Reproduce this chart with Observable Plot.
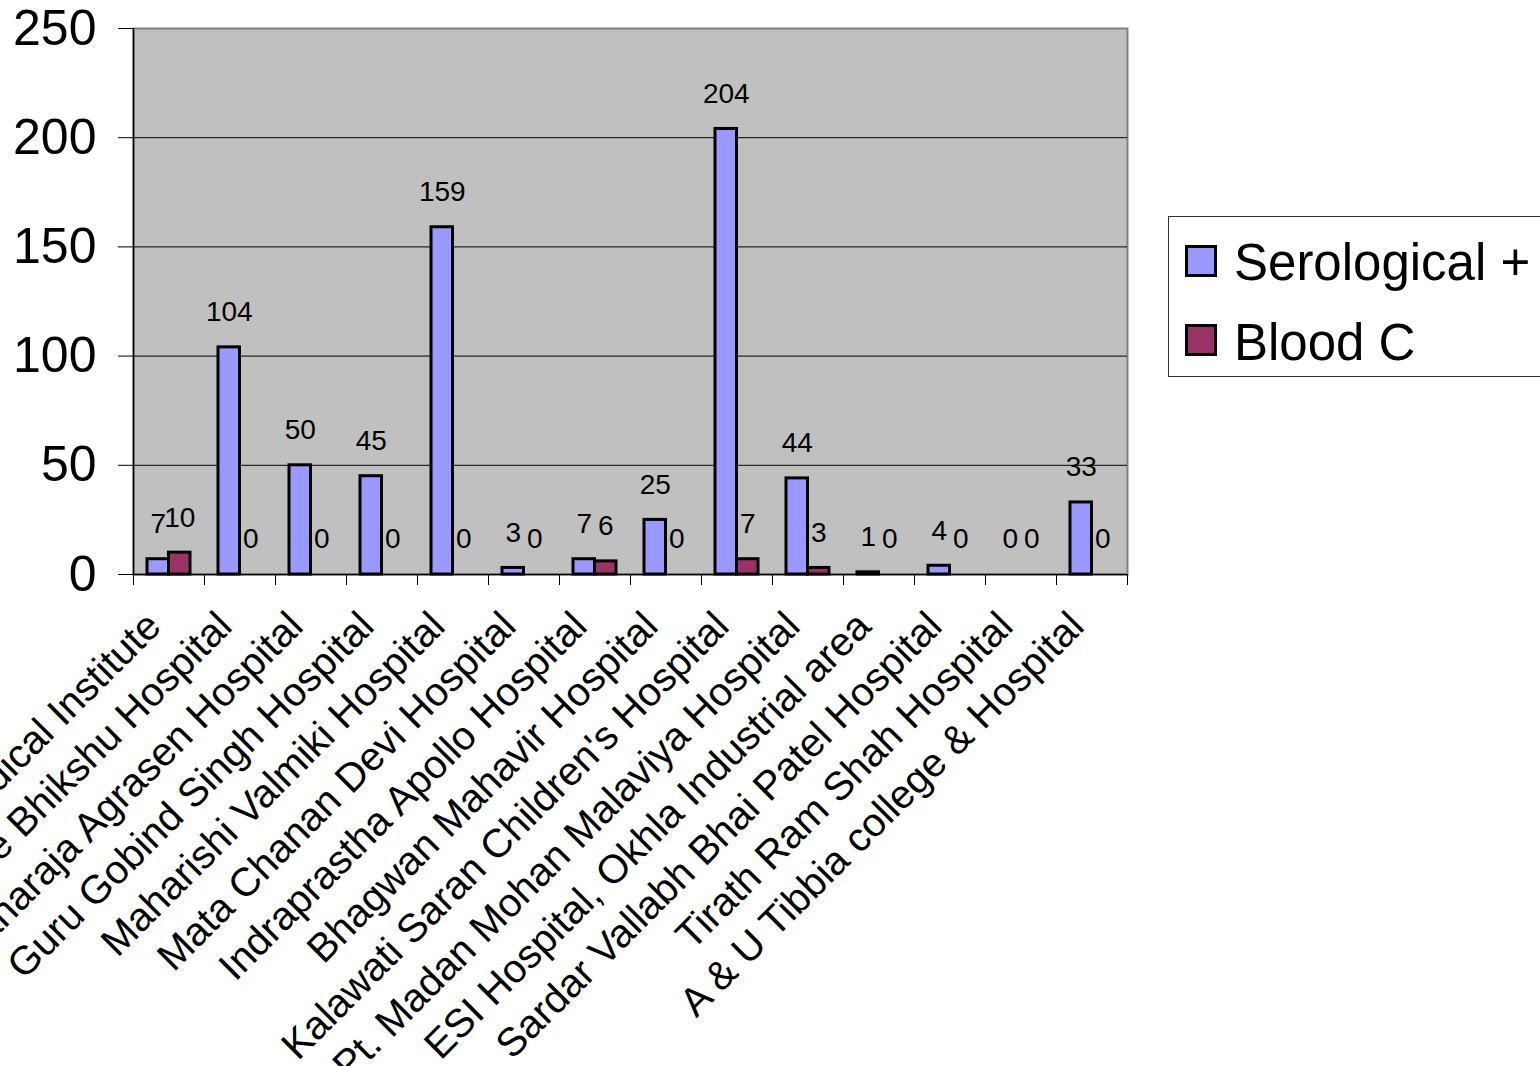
<!DOCTYPE html>
<html><head><meta charset="utf-8">
<script src="https://cdn.jsdelivr.net/npm/d3@7"></script>
<script src="https://cdn.jsdelivr.net/npm/@observablehq/plot@0.6"></script>
<style>
html,body{margin:0;padding:0;background:#fff;overflow:hidden}
#wrap{position:relative;width:1540px;height:1066px;overflow:hidden;background:#fff}
#legend{position:absolute;left:1168px;top:216px}
</style></head><body>
<div id="wrap"><div id="chart"></div><div id="legend"></div></div>
<script>
const hospitals = [
  "Sri Balaji Action Medical Institute",
  "Acharya Shree Bhikshu Hospital",
  "Maharaja Agrasen Hospital",
  "Guru Gobind Singh Hospital",
  "Maharishi Valmiki Hospital",
  "Mata Chanan Devi Hospital",
  "Indraprastha Apollo Hospital",
  "Bhagwan Mahavir Hospital",
  "Kalawati Saran Children's Hospital",
  "Pt. Madan Mohan Malaviya Hospital",
  "ESI Hospital, Okhla Industrial area",
  "Sardar Vallabh Bhai Patel Hospital",
  "Tirath Ram Shah Hospital",
  "A & U Tibbia college & Hospital"
];
const serological = [7, 104, 50, 45, 159, 3, 7, 25, 204, 44, 1, 4, 0, 33];
const bloodC = [10, 0, 0, 0, 0, 0, 6, 0, 7, 3, 0, 0, 0, 0];
const seriesNames = ["Serological +", "Blood C"];
const seriesColors = ["#9999FF", "#993366"];
const yTicks = [0, 50, 100, 150, 200, 250];

const rows = [];
hospitals.forEach((h, i) => {
  rows.push({hospital: h, series: seriesNames[0], value: serological[i]});
  rows.push({hospital: h, series: seriesNames[1], value: bloodC[i]});
});

const W = 1540, H = 1066, mL = 133, mR = 413, mT = 28, mB = 492;
const band = (W - mL - mR) / hospitals.length;
const half = band / 2;
const barW = 21.5;
const font = "'Liberation Sans', Arial, Helvetica, sans-serif";

const ser = rows.filter(d => d.series === seriesNames[0]);
const blo = rows.filter(d => d.series === seriesNames[1]);

const chart = Plot.plot({
  width: W, height: H,
  marginLeft: mL, marginRight: mR, marginTop: mT, marginBottom: mB,
  style: {fontFamily: font, background: "transparent", color: "black"},
  x: {domain: hospitals, padding: 0, label: null, axis: null},
  y: {domain: [0, 250], label: null, axis: null},
  color: {domain: seriesNames, range: seriesColors},
  marks: [
    Plot.frame({fill: "#C0C0C0", stroke: "#808080", strokeWidth: 2}),
    Plot.ruleY(yTicks.filter(t => t > 0 && t < 250), {stroke: "#000", strokeWidth: 1}),
    Plot.barY(ser.filter(d => d.value > 0), {x: "hospital", y: "value", fill: "series",
      stroke: "black", strokeWidth: 3, insetLeft: half - barW, insetRight: half}),
    Plot.barY(blo.filter(d => d.value > 0), {x: "hospital", y: "value", fill: "series",
      stroke: "black", strokeWidth: 3, insetLeft: half, insetRight: half - barW}),
    Plot.ruleY([0], {stroke: "black", strokeWidth: 1.5}),
    Plot.ruleX([hospitals[0]], {y1: 0, y2: 250, dx: -half, stroke: "black", strokeWidth: 1.5}),
    Plot.text(ser, {x: "hospital", y: "value", text: d => String(d.value), dx: -barW / 2, dy: -35,
      fontFamily: font, fontSize: 28, fill: "black", lineAnchor: "middle"}),
    Plot.text(blo, {x: "hospital", y: "value", text: d => String(d.value), dx: barW / 2, dy: -35,
      fontFamily: font, fontSize: 28, fill: "black", lineAnchor: "middle"}),
    Plot.axisY({ticks: yTicks, tickSize: 15, tickPadding: 22, fontSize: 50, label: null,
      tickFormat: d => String(d)}),
    Plot.axisX({tickSize: 11, dx: -half, tickFormat: () => "", label: null}),
    Plot.axisX({ticks: [hospitals[hospitals.length - 1]], tickSize: 11, dx: half, tickFormat: () => "", label: null}),
    Plot.axisX({tickSize: 0, tickRotate: -45, tickPadding: 45, dx: -15, fontSize: 40, label: null})
  ]
});
document.getElementById("chart").appendChild(chart);

// Legend
const ns = "http://www.w3.org/2000/svg";
const lg = document.createElementNS(ns, "svg");
lg.setAttribute("width", 400); lg.setAttribute("height", 162);
lg.innerHTML = `<rect x="0.5" y="0.5" width="420" height="160" fill="white" stroke="#333" stroke-width="1"/>` +
  seriesNames.map((s, i) => `<rect x="18.5" y="${30.5 + i * 79}" width="29" height="29" fill="${seriesColors[i]}" stroke="black" stroke-width="3"/>` +
  `<text x="66" y="${64 + i * 80}" font-family="${font.replace(/'/g, '&quot;')}" font-size="51" fill="black">${s}</text>`).join("");
document.getElementById("legend").appendChild(lg);
</script>
</body></html>
